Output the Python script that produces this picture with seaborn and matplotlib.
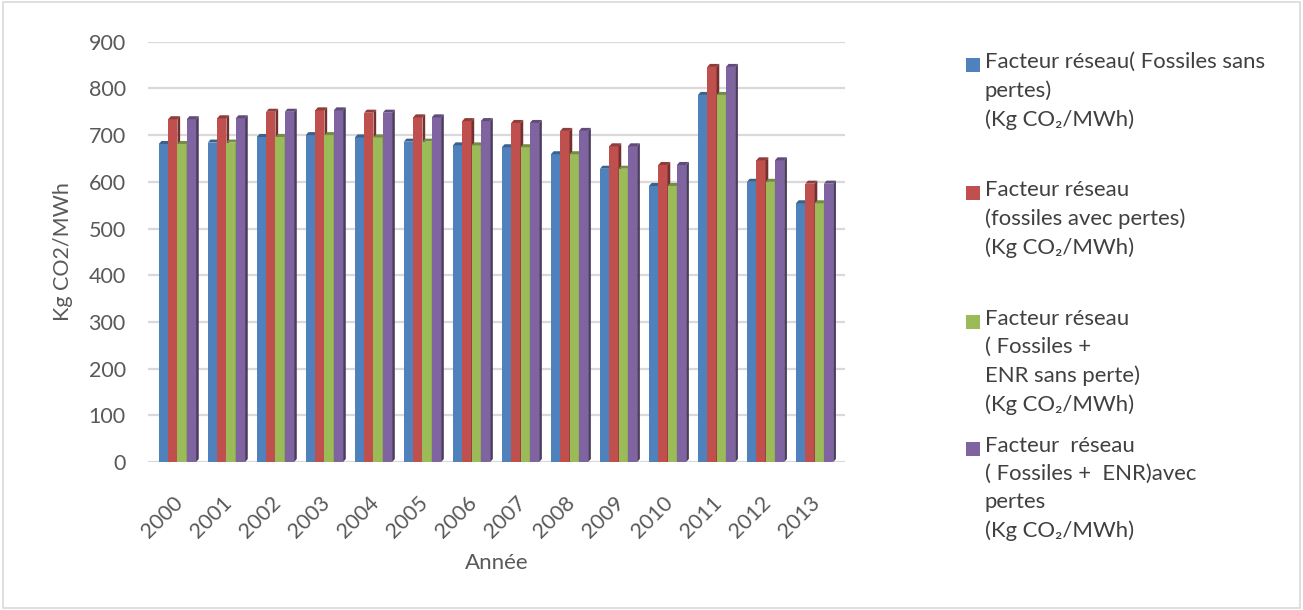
import numpy as np
import pandas as pd
import seaborn as sns
import matplotlib.pyplot as plt
from matplotlib.patches import Polygon, Rectangle
from matplotlib.colors import to_rgb
from matplotlib.transforms import ScaledTranslation

# Data
years = [str(y) for y in range(2000, 2014)]
fossiles_sans_pertes = [681, 684, 696, 700, 695, 686, 678, 674, 659, 628, 591, 786, 600, 554]
fossiles_avec_pertes = [734, 736, 750, 753, 748, 738, 730, 726, 709, 676, 636, 846, 646, 596]
fossiles_enr_sans_perte = [681, 684, 696, 700, 695, 686, 678, 674, 659, 628, 591, 786, 600, 554]
fossiles_enr_avec_pertes = [734, 736, 750, 753, 748, 738, 730, 726, 709, 676, 636, 846, 646, 596]

series_labels = [
    "Facteur réseau( Fossiles sans\npertes)\n(Kg CO₂/MWh)",
    "Facteur réseau\n(fossiles avec pertes)\n(Kg CO₂/MWh)",
    "Facteur réseau\n( Fossiles +\nENR sans perte)\n(Kg CO₂/MWh)",
    "Facteur  réseau\n( Fossiles +  ENR)avec\npertes\n(Kg CO₂/MWh)",
]
series_values = [fossiles_sans_pertes, fossiles_avec_pertes,
                 fossiles_enr_sans_perte, fossiles_enr_avec_pertes]
colors = ["#4F81BD", "#C0504D", "#9BBB59", "#8064A2"]

rows = []
for lab, vals in zip(series_labels, series_values):
    for yr, v in zip(years, vals):
        rows.append({"Année": yr, "valeur": v, "serie": lab})
df = pd.DataFrame(rows)

sns.set_theme(style="white")
plt.rcParams["font.family"] = ["Lato", "DejaVu Sans"]

fig = plt.figure(figsize=(13.03, 6.10), dpi=100)
ax = fig.add_axes([0.1136, 0.2426, 0.6485 - 0.1136, 0.9316 - 0.2426])

sns.barplot(data=df, x="Année", y="valeur", hue="serie", hue_order=series_labels,
            palette=colors, width=0.76, saturation=1, legend=False, ax=ax,
            linewidth=0)

# Pseudo-3D side and top faces derived from the drawn bars
dx = 0.055
dy = 6.5
n_years = len(years)
for k, bar in enumerate(list(ax.patches)):
    j = k // n_years
    base = np.array(to_rgb(colors[j]))
    x0 = bar.get_x()
    x1 = x0 + bar.get_width()
    h = bar.get_height()
    bar.set_zorder(3 + j)
    side = Polygon([(x1, 0), (x1 + dx, dy), (x1 + dx, h + dy), (x1, h)],
                   closed=True, facecolor=base * 0.6, edgecolor="none", zorder=3.5 + j)
    top = Polygon([(x0, h), (x0 + dx, h + dy), (x1 + dx, h + dy), (x1, h)],
                  closed=True, facecolor=base * 0.75, edgecolor="none", zorder=3.5 + j)
    ax.add_patch(side)
    ax.add_patch(top)

ax.set_ylim(0, 900)
ax.set_xlim(-0.6, 13.62)
ax.set_yticks(range(0, 1000, 100))
ax.yaxis.grid(True, color="#D9D9D9", linewidth=1.6, zorder=0)
ax.set_axisbelow(True)
for s in ax.spines.values():
    s.set_visible(False)

tick_color = "#595959"
ax.tick_params(axis="y", length=0, pad=16, labelsize=15.5, labelcolor=tick_color)
ax.tick_params(axis="x", length=0, pad=22, labelsize=15.5, labelcolor=tick_color)
shift = ScaledTranslation(-5 / 100, 0, fig.dpi_scale_trans)
for lbl in ax.get_xticklabels():
    lbl.set_rotation(45)
    lbl.set_ha("right")
    lbl.set_rotation_mode("anchor")
    lbl.set_transform(lbl.get_transform() + shift)

ax.set_ylabel("Kg CO2/MWh", fontsize=15.5, color=tick_color, labelpad=11)
ax.set_xlabel("Année", fontsize=16, color=tick_color, labelpad=8)

# Legend drawn beside the plot
legend_tops = [65, 193, 322, 449]
for lab, col, ytop in zip(series_labels, colors, legend_tops):
    fig.patches.append(Rectangle(((966) / 1303, 1 - (ytop + 7) / 610), 14 / 1303, 14 / 610,
                                 transform=fig.transFigure, facecolor=col,
                                 edgecolor="none"))
    fig.text(985 / 1303, 1 - (ytop - 13) / 610, lab, fontsize=15.9, color="#404040",
             va="top", ha="left", linespacing=1.5)

# Outer frame
fig.patches.append(Rectangle((0.002, 0.004), 0.996, 0.992, transform=fig.transFigure,
                             facecolor="none", edgecolor="#D9D9D9", linewidth=1.2))

fig.savefig("out.png", dpi=100)
